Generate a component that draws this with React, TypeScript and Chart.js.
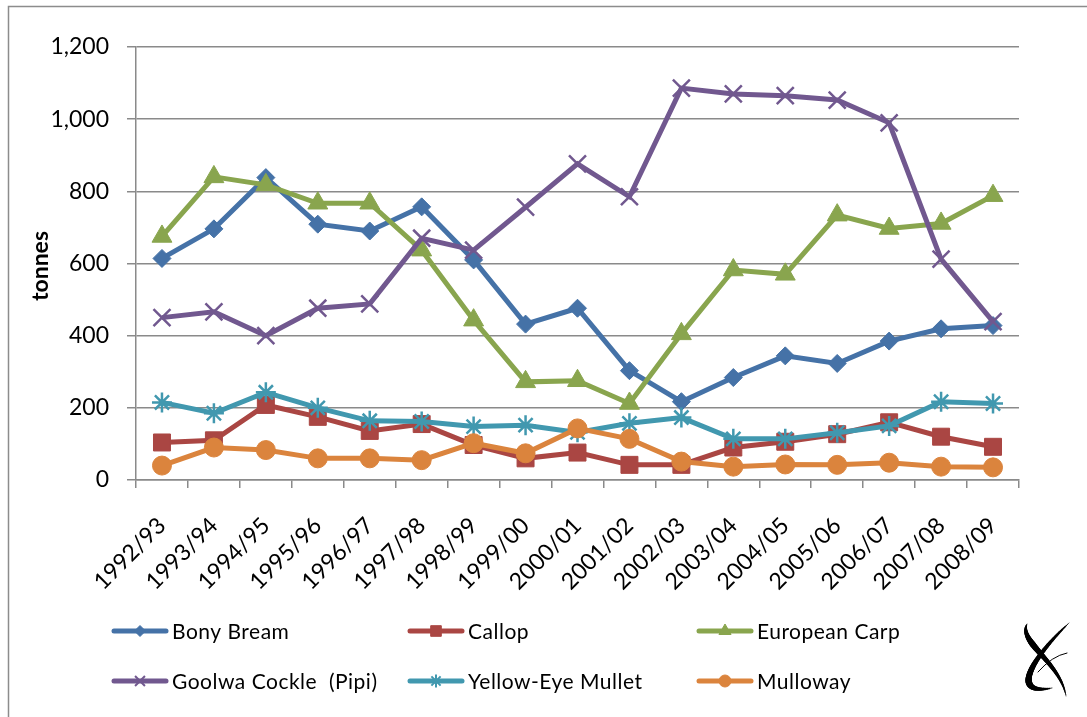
import React, { useEffect, useRef } from 'react';
import { Chart, registerables } from 'chart.js';
import { drawPoint } from 'chart.js/helpers';

Chart.register(...registerables);

const categories = ['1992/93', '1993/94', '1994/95', '1995/96', '1996/97', '1997/98', '1998/99', '1999/00', '2000/01', '2001/02', '2002/03', '2003/04', '2004/05', '2005/06', '2006/07', '2007/08', '2008/09'];

const bonyBream = [614, 696, 838, 709, 690, 757, 610, 432, 476, 303, 217, 284, 344, 323, 385, 419, 428];
const callop = [104, 110, 208, 175, 136, 155, 97, 60, 76, 42, 42, 90, 106, 127, 160, 120, 92];
const europeanCarp = [675, 840, 818, 767, 767, 637, 443, 272, 275, 212, 405, 582, 570, 734, 697, 711, 788];
const goolwaCockle = [450, 466, 400, 476, 488, 670, 637, 756, 876, 785, 1086, 1070, 1065, 1053, 990, 612, 439];
const yellowEyeMullet = [215, 185, 243, 200, 164, 162, 148, 152, 132, 157, 173, 114, 114, 131, 150, 217, 212];
const mulloway = [40, 90, 83, 60, 60, 55, 102, 74, 143, 114, 51, 37, 43, 42, 48, 37, 35];

const yTicks = [0, 200, 400, 600, 800, 1000, 1200];

const seriesNames = ['Bony Bream', 'Callop', 'European Carp', 'Goolwa Cockle  (Pipi)', 'Yellow-Eye Mullet', 'Mulloway'];
const seriesData = [bonyBream, callop, europeanCarp, goolwaCockle, yellowEyeMullet, mulloway];
const seriesColors = ['#4572A7', '#AA4643', '#89A54E', '#71588F', '#4198AF', '#DB843D'];
const seriesStyles = ['rectRot', 'rect', 'triangle', 'crossRot', 'star', 'circle'];
const seriesRadius = [9, 12, 11.5, 12, 10, 9.5];
const legendRadius = [5.5, 7.5, 7, 7, 6.5, 6];

const FONT = 'Lato, "Open Sans", sans-serif';
const GRID = '#8a8a8a';

const legendCols = [112, 408, 697];
const legendRows = [631, 681];

type P = [number, number];
function bez(p0: P, p1: P, p2: P, p3: P, t: number): P {
  const u = 1 - t;
  return [
    u * u * u * p0[0] + 3 * u * u * t * p1[0] + 3 * u * t * t * p2[0] + t * t * t * p3[0],
    u * u * u * p0[1] + 3 * u * u * t * p1[1] + 3 * u * t * t * p2[1] + t * t * t * p3[1],
  ];
}
function taper(ctx: CanvasRenderingContext2D, p0: P, p1: P, p2: P, p3: P, wmax: number, peak: number) {
  const n = 60;
  ctx.lineCap = 'round';
  let prev = bez(p0, p1, p2, p3, 0);
  for (let i = 1; i <= n; i++) {
    const t = i / n;
    const pt = bez(p0, p1, p2, p3, t);
    const tm = t - 0.5 / n;
    const d = tm < peak ? tm / peak : (1 - tm) / (1 - peak);
    ctx.lineWidth = Math.max(0.6, wmax * Math.pow(Math.max(0, d), 0.6));
    ctx.beginPath();
    ctx.moveTo(prev[0], prev[1]);
    ctx.lineTo(pt[0], pt[1]);
    ctx.stroke();
    prev = pt;
  }
}

const decorPlugin = {
  id: 'decor',
  afterDraw(chart: any) {
    const ctx = chart.ctx as CanvasRenderingContext2D;
    ctx.save();
    // outer border (cropped)
    ctx.strokeStyle = '#8c8c8c';
    ctx.lineWidth = 1.5;
    ctx.beginPath();
    ctx.moveTo(8.5, 717);
    ctx.lineTo(8.5, 6.5);
    ctx.lineTo(1087, 6.5);
    ctx.stroke();

    // y title
    ctx.save();
    ctx.translate(41, 266);
    ctx.rotate(-Math.PI / 2);
    ctx.font = 'bold 23px ' + FONT;
    ctx.fillStyle = '#000';
    ctx.textAlign = 'center';
    ctx.textBaseline = 'middle';
    ctx.fillText('tonnes', 0, 0);
    ctx.restore();

    // legend
    seriesNames.forEach((name, i) => {
      const col = i % 3;
      const row = Math.floor(i / 3);
      const x0 = legendCols[col];
      const x1 = x0 + 56;
      const y = legendRows[row];
      ctx.strokeStyle = seriesColors[i];
      ctx.fillStyle = seriesColors[i];
      ctx.lineWidth = 5;
      ctx.lineCap = 'round';
      ctx.beginPath();
      ctx.moveTo(x0 + 2, y);
      ctx.lineTo(x1 - 2, y);
      ctx.stroke();
      ctx.lineCap = 'butt';
      const cross = seriesStyles[i] === 'crossRot' || seriesStyles[i] === 'star';
      ctx.lineWidth = cross ? 2 : 1;
      drawPoint(ctx, { pointStyle: seriesStyles[i], radius: legendRadius[i], rotation: 0, borderWidth: ctx.lineWidth } as any, (x0 + x1) / 2, y);
      ctx.fillStyle = '#000';
      ctx.font = '21px ' + FONT;
      ctx.textAlign = 'left';
      ctx.textBaseline = 'middle';
      (ctx as any).letterSpacing = '0.5px';
      ctx.fillText(name, x1 + 4, y + 1);
      (ctx as any).letterSpacing = '0px';
    });

    // logo
    ctx.strokeStyle = '#000';
    taper(ctx, [1027, 624], [1018, 642], [1060, 662], [1066, 696], 6, 0.35);
    taper(ctx, [1069, 623], [1042, 648], [1003, 697], [1052, 688], 6.5, 0.7);
    ctx.lineCap = 'round';
    ctx.lineWidth = 1;
    ctx.beginPath();
    ctx.moveTo(1031, 676);
    ctx.quadraticCurveTo(1038, 655, 1050, 643);
    ctx.stroke();
    ctx.beginPath();
    ctx.moveTo(1038, 672);
    ctx.quadraticCurveTo(1052, 656, 1067, 653);
    ctx.stroke();
    ctx.restore();
  },
};

export default function App() {
  const ref = useRef<HTMLCanvasElement>(null);
  useEffect(() => {
    if (!ref.current) return;
    const datasets = seriesNames.map((name, i) => {
      const cross = seriesStyles[i] === 'crossRot' || seriesStyles[i] === 'star';
      return {
        label: name,
        data: seriesData[i],
        borderColor: seriesColors[i],
        backgroundColor: seriesColors[i],
        borderWidth: 5,
        pointStyle: seriesStyles[i] as any,
        pointRadius: seriesRadius[i],
        pointBackgroundColor: seriesColors[i],
        pointBorderColor: seriesColors[i],
        pointBorderWidth: cross ? 2.5 : 1,
        tension: 0,
        fill: false,
        order: seriesNames.length - 1 - i,
      };
    });
    const chart = new Chart(ref.current, {
      type: 'line',
      data: { labels: categories, datasets },
      options: {
        responsive: false,
        animation: false,
        devicePixelRatio: 1,
        layout: { padding: { left: 0, top: 47, right: 68, bottom: 0 } },
        plugins: { legend: { display: false }, tooltip: { enabled: false }, title: { display: false } },
        scales: {
          x: {
            type: 'category',
            offset: true,
            grid: { display: true, drawOnChartArea: false, drawTicks: true, tickLength: 8, color: GRID, lineWidth: 1.5, offset: true },
            border: { display: true, color: GRID, width: 1.5 },
            ticks: {
              autoSkip: false,
              maxRotation: 45,
              minRotation: 45,
              padding: 24,
              color: '#000',
              font: { family: FONT, size: 23 },
            },
            afterFit: (s: any) => { s.height = 237; },
          },
          y: {
            min: 0,
            max: 1200,
            afterBuildTicks: (s: any) => { s.ticks = yTicks.map((v) => ({ value: v })); },
            grid: { color: GRID, lineWidth: 1.5, tickLength: 9, drawTicks: true },
            border: { display: true, color: GRID, width: 1.5 },
            ticks: {
              padding: 18,
              color: '#000',
              font: { family: FONT, size: 23 },
              callback: (v: any) => Number(v).toLocaleString('en-US'),
            },
            afterFit: (s: any) => { s.width = 136; },
          },
        },
      },
      plugins: [decorPlugin],
    });
    return () => chart.destroy();
  }, []);
  return (
    <div style={{ position: 'fixed', left: 0, top: 0, width: 1087, height: 717, background: '#fff' }}>
      <canvas ref={ref} width={1087} height={717} style={{ width: 1087, height: 717, display: 'block' }} />
    </div>
  );
}
